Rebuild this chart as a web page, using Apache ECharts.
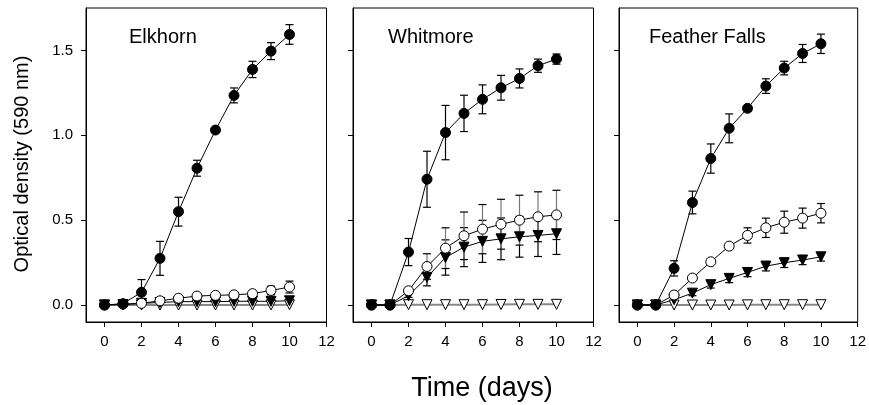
<!DOCTYPE html>
<html>
<head>
<meta charset="utf-8">
<script src="https://cdn.jsdelivr.net/npm/echarts@6/dist/echarts.min.js"></script>
<style>
html,body{margin:0;padding:0;background:#fff;}
#c{width:869px;height:405px;}
</style>
</head>
<body>
<div id="c"></div>
<script>
// ---- data ----
const days = [0, 1, 2, 3, 4, 5, 6, 7, 8, 9, 10];
const xTicks = [0, 2, 4, 6, 8, 10, 12];
const yTicks = [0, 0.5, 1.0, 1.5];
const panelNames = ['Elkhorn', 'Whitmore', 'Feather Falls'];

// Elkhorn
const elkFilledCircle    = [0, 0.008, 0.075, 0.275, 0.55, 0.806, 1.031, 1.235, 1.388, 1.496, 1.594];
const elkFilledCircleErr = [0, 0.005, 0.075, 0.10, 0.085, 0.047, 0.015, 0.044, 0.048, 0.05, 0.058];
const elkOpenCircle      = [0, 0.005, 0.01, 0.025, 0.04, 0.053, 0.057, 0.06, 0.067, 0.086, 0.106];
const elkOpenCircleErr   = [0, 0, 0, 0.005, 0.005, 0.008, 0.008, 0.01, 0.012, 0.025, 0.035];
const elkFilledTri       = [0, 0.003, 0.01, 0.015, 0.02, 0.02, 0.02, 0.022, 0.022, 0.022, 0.025];
const elkFilledTriErr    = [0, 0, 0, 0.003, 0.003, 0.004, 0.004, 0.004, 0.005, 0.005, 0.005];
const elkOpenTri         = [0, 0, 0, 0, 0, 0, 0, 0, 0, 0, 0.002];

// Whitmore
const whFilledCircle     = [0, 0, 0.312, 0.741, 1.016, 1.129, 1.212, 1.28, 1.335, 1.41, 1.449];
const whFilledCircleErr  = [0, 0, 0.08, 0.165, 0.16, 0.107, 0.085, 0.073, 0.056, 0.039, 0.03];
const whOpenCircle       = [0, 0, 0.084, 0.227, 0.335, 0.408, 0.447, 0.476, 0.5, 0.52, 0.531];
const whOpenCircleErr    = [0, 0, 0.01, 0.075, 0.12, 0.14, 0.145, 0.147, 0.147, 0.147, 0.145];
const whFilledTri        = [0, 0, 0.055, 0.163, 0.28, 0.341, 0.375, 0.39, 0.402, 0.41, 0.42];
const whFilledTriErr     = [0, 0, 0.01, 0.05, 0.104, 0.115, 0.124, 0.123, 0.12, 0.124, 0.122];
const whOpenTri          = [0, 0, 0.002, 0.002, 0.002, 0.002, 0.002, 0.003, 0.004, 0.004, 0.004];

// Feather Falls
const ffFilledCircle     = [0, 0, 0.216, 0.604, 0.863, 1.041, 1.159, 1.29, 1.396, 1.482, 1.539];
const ffFilledCircleErr  = [0, 0, 0.045, 0.067, 0.086, 0.085, 0.015, 0.043, 0.04, 0.053, 0.057];
const ffOpenCircle       = [0, 0, 0.059, 0.159, 0.255, 0.347, 0.41, 0.455, 0.488, 0.512, 0.541];
const ffOpenCircleErr    = [0, 0, 0.005, 0.008, 0.01, 0.015, 0.045, 0.057, 0.065, 0.059, 0.057];
const ffFilledTri        = [0, 0, 0.031, 0.07, 0.12, 0.157, 0.192, 0.229, 0.249, 0.265, 0.284];
const ffFilledTriErr     = [0, 0, 0.01, 0.015, 0.02, 0.025, 0.025, 0.028, 0.028, 0.027, 0.025];
const ffOpenTri          = [0, 0, 0, 0, 0, 0, 0.001, 0.002, 0.002, 0.002, 0.002];

const panels = [
  { fc: elkFilledCircle, fcE: elkFilledCircleErr, oc: elkOpenCircle, ocE: elkOpenCircleErr, ft: elkFilledTri, ftE: elkFilledTriErr, ot: elkOpenTri },
  { fc: whFilledCircle, fcE: whFilledCircleErr, oc: whOpenCircle, ocE: whOpenCircleErr, ft: whFilledTri, ftE: whFilledTriErr, ot: whOpenTri },
  { fc: ffFilledCircle, fcE: ffFilledCircleErr, oc: ffOpenCircle, ocE: ffOpenCircleErr, ft: ffFilledTri, ftE: ffFilledTriErr, ot: ffOpenTri }
];

// ---- chart ----
const FONT = 'Liberation Sans, Arial, sans-serif';
const gridLefts = [86, 353, 619];
const chart = echarts.init(document.getElementById('c'), null, { renderer: 'canvas' });

const grids = [], xAxes = [], yAxes = [], series = [];

function errSeries(idx, vals, errs, stemColor) {
  return {
    type: 'custom', xAxisIndex: idx, yAxisIndex: idx, z: 1, silent: true,
    data: days.map((d, i) => [d, vals[i], errs[i]]),
    renderItem: function (params, api) {
      const x = api.value(0), y = api.value(1), e = api.value(2);
      if (!e) return null;
      const top = api.coord([x, y + e]);
      const bot = api.coord([x, y - e]);
      const hw = 4;
      return {
        type: 'group',
        children: [
          { type: 'line', shape: { x1: top[0], y1: top[1], x2: bot[0], y2: bot[1] }, style: { stroke: stemColor, lineWidth: 1.2 } },
          { type: 'line', shape: { x1: top[0] - hw, y1: top[1], x2: top[0] + hw, y2: top[1] }, style: { stroke: '#000', lineWidth: 1.2 } },
          { type: 'line', shape: { x1: bot[0] - hw, y1: bot[1], x2: bot[0] + hw, y2: bot[1] }, style: { stroke: '#000', lineWidth: 1.2 } }
        ]
      };
    }
  };
}

function lineSeries(idx, vals, opt) {
  return Object.assign({
    type: 'line', xAxisIndex: idx, yAxisIndex: idx, z: 3,
    data: days.map((d, i) => [d, vals[i]]),
    showSymbol: true, showAllSymbol: true, symbolSize: 10,
    lineStyle: { color: '#000', width: 1 },
    emphasis: { disabled: true }, silent: true
  }, opt);
}

panels.forEach((p, i) => {
  grids.push({ left: gridLefts[i], top: 8, width: 240.5, height: 314, show: true, borderColor: '#000', borderWidth: 1, backgroundColor: 'transparent' });
  xAxes.push({
    type: 'value', gridIndex: i, min: -1, max: 12,
    axisLine: { show: true, onZero: false, lineStyle: { color: '#000', width: 1 } },
    axisTick: { show: true, inside: false, length: 5, customValues: xTicks, lineStyle: { color: '#000' } },
    axisLabel: { show: true, customValues: xTicks, margin: 12, color: '#000', fontSize: 15, fontFamily: FONT },
    splitLine: { show: false }
  });
  yAxes.push({
    type: 'value', gridIndex: i, min: -0.1, max: 1.75,
    axisLine: { show: true, onZero: false, lineStyle: { color: '#000', width: 1 } },
    axisTick: { show: true, inside: false, length: 5, customValues: yTicks, lineStyle: { color: '#000' } },
    axisLabel: { show: i === 0, customValues: yTicks, margin: 13, color: '#000', fontSize: 15, fontFamily: FONT,
      formatter: v => v.toFixed(1) },
    splitLine: { show: false }
  });

  // error bars
  series.push(errSeries(i, p.ft, p.ftE, '#000'));
  series.push(errSeries(i, p.oc, p.ocE, i === 1 ? '#777' : '#000'));
  series.push(errSeries(i, p.fc, p.fcE, '#000'));

  // open triangles (gray line)
  series.push(lineSeries(i, p.ot, {
    symbol: 'triangle', symbolRotate: 180, symbolSize: 10,
    lineStyle: { color: '#888', width: 2 },
    itemStyle: { color: '#fff', borderColor: '#000', borderWidth: 1 }
  }));
  // filled triangles
  series.push(lineSeries(i, p.ft, {
    symbol: 'triangle', symbolRotate: 180, symbolSize: 10,
    itemStyle: { color: '#000', borderColor: '#000', borderWidth: 1 }
  }));
  // open circles
  series.push(lineSeries(i, p.oc, {
    symbol: 'circle',
    itemStyle: { color: '#fff', borderColor: '#000', borderWidth: 1 }
  }));
  // filled circles
  series.push(lineSeries(i, p.fc, {
    symbol: 'circle',
    itemStyle: { color: '#000', borderColor: '#000', borderWidth: 1 }
  }));
});

const titleLefts = [129, 388, 649];
const graphics = panelNames.map((n, i) => ({
  type: 'text', left: titleLefts[i], top: 27, z: 10,
  style: { text: n, fontSize: 20, fontFamily: FONT, fill: '#000' }
}));
graphics.push({
  type: 'text', x: 22, y: 164, rotation: Math.PI / 2, z: 10,
  style: { text: 'Optical density (590 nm)', fontSize: 20, fontFamily: FONT, fill: '#000', align: 'center', verticalAlign: 'middle' }
});
graphics.push({
  type: 'text', x: 482, y: 389, z: 10,
  style: { text: 'Time (days)', fontSize: 27, fontFamily: FONT, fill: '#000', align: 'center', verticalAlign: 'middle' }
});

chart.setOption({
  animation: false,
  backgroundColor: '#fff',
  grid: grids,
  xAxis: xAxes,
  yAxis: yAxes,
  series: series,
  graphic: graphics
});
</script>
</body>
</html>
